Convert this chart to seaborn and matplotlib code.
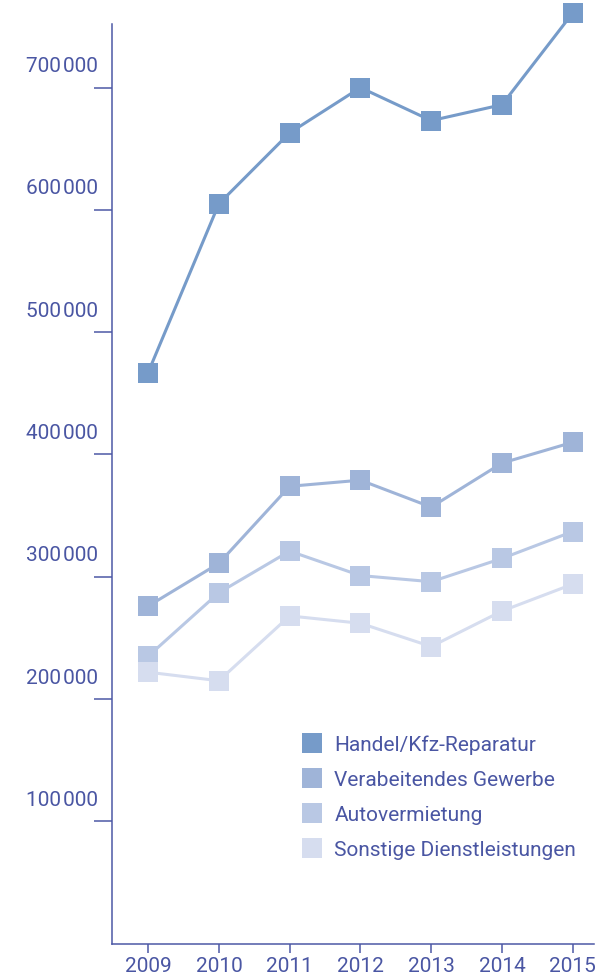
import matplotlib
matplotlib.use("Agg")
import matplotlib.pyplot as plt
from matplotlib.lines import Line2D
from matplotlib.transforms import offset_copy
import seaborn as sns
import pandas as pd

years = [2009, 2010, 2011, 2012, 2013, 2014, 2015]
series_names = ["Handel/Kfz-Reparatur", "Verabeitendes Gewerbe",
                "Autovermietung", "Sonstige Dienstleistungen"]
handel = [467000, 605000, 663000, 700000, 673000, 686000, 761000]
verarbeitend = [276000, 311000, 374000, 379000, 357000, 393000, 410000]
autovermietung = [235000, 287000, 321000, 301000, 296000, 315000, 337000]
sonstige = [222000, 215000, 268000, 262000, 243000, 272000, 294000]
colors = ["#769bc9", "#9fb4d8", "#b9c8e4", "#d6ddef"]
ytick_values = [100000, 200000, 300000, 400000, 500000, 600000, 700000]
ytick_labels = ["100\u200a000", "200\u200a000", "300\u200a000", "400\u200a000",
                "500\u200a000", "600\u200a000", "700\u200a000"]

df = pd.DataFrame({
    "year": years * 4,
    "value": handel + verarbeitend + autovermietung + sonstige,
    "series": sum([[n] * len(years) for n in series_names], []),
})

sns.set_style("white")
plt.rcParams["font.family"] = ["Roboto", "DejaVu Sans"]
plt.rcParams["font.weight"] = "normal"

axis_col = "#4d58a6"
text_col = "#4a56a3"
fs = 15

fig = plt.figure(figsize=(5.99, 9.80), dpi=100)
ax = fig.add_axes([112 / 599, 1 - 943.7 / 980, (594 - 112) / 599, (943.7 - 24) / 980])

sns.lineplot(data=df, x="year", y="value", hue="series", hue_order=series_names,
             palette=colors, marker="s", markersize=14.4, markeredgewidth=0,
             linewidth=2.2, legend=False, ax=ax)
for ln in ax.lines:
    ln.set_clip_on(False)

ax.set_xlim(2008.49, 2015.30)
ax.set_ylim(0, 752000)
ax.set_xlabel("")
ax.set_ylabel("")

for s in ["top", "right"]:
    ax.spines[s].set_visible(False)
for s in ["left", "bottom"]:
    ax.spines[s].set_color(axis_col)
    ax.spines[s].set_linewidth(1.1)

ax.set_xticks(years)
ax.set_xticklabels([str(y) for y in years])
ax.tick_params(axis="x", bottom=True, direction="out", length=6.5, width=1.1,
               color=axis_col, labelcolor=text_col, labelsize=fs, pad=3)
ax.set_yticks(ytick_values)
ax.set_yticklabels([""] * len(ytick_values))
ax.tick_params(axis="y", left=True, direction="out", length=13, width=1.1,
               color=axis_col, pad=0)

tr = offset_copy(ax.get_yaxis_transform(), fig=fig, x=-14, y=21, units="dots")
for v, lab in zip(ytick_values, ytick_labels):
    ax.text(0, v, lab, transform=tr, ha="right", va="center",
            fontsize=fs, color=text_col)

handles = [Line2D([], [], marker="s", linestyle="none", markersize=14.4,
                  markeredgewidth=0, color=c) for c in colors]
leg = ax.legend(handles, series_names, loc="upper left",
                bbox_to_anchor=(302 / 599, 1 - 735 / 980), bbox_transform=fig.transFigure,
                frameon=False, handlelength=1.0, handletextpad=0.55,
                labelspacing=0.77, fontsize=fs, borderpad=0, borderaxespad=0)
for t in leg.get_texts():
    t.set_color(text_col)

fig.savefig("out.png", dpi=100)
